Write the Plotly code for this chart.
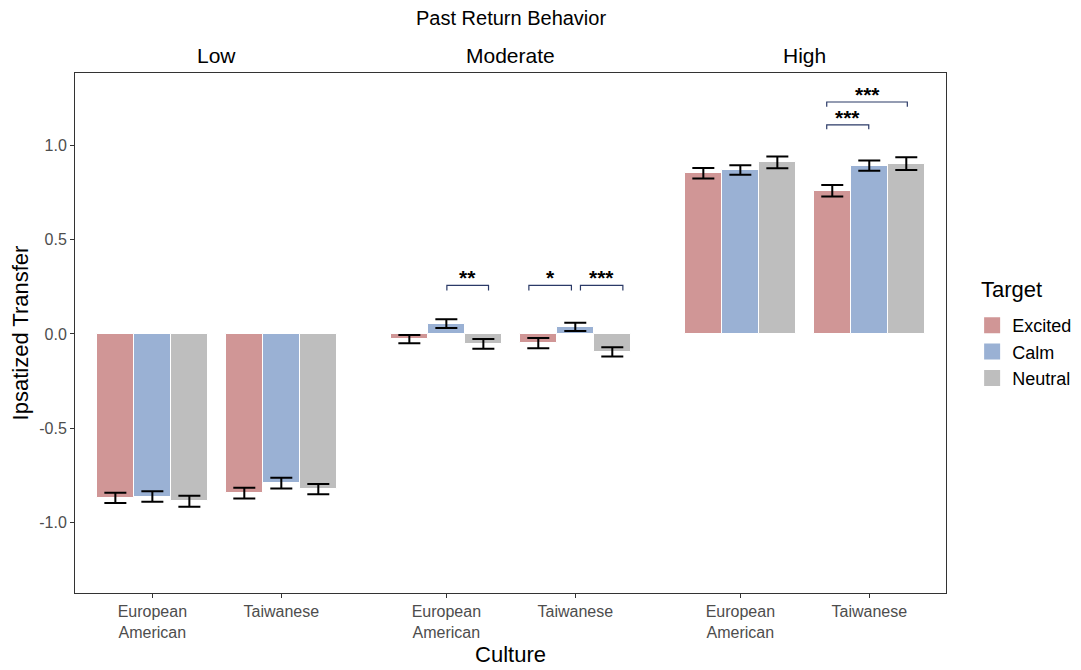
import plotly.graph_objects as go

facets = ["Low", "Moderate", "High"]
cultures = ["European<br>American", "Taiwanese"]
targets = ["Excited", "Calm", "Neutral"]
colors = ["#D09696", "#9AB1D4", "#BEBEBE"]

# values[target] -> list over (facet, culture): Low-EA, Low-TW, Mod-EA, Mod-TW, High-EA, High-TW
values = {
    "Excited": [-0.870, -0.845, -0.028, -0.049, 0.853, 0.760],
    "Calm":    [-0.863, -0.792, 0.055, 0.037, 0.870, 0.893],
    "Neutral": [-0.888, -0.824, -0.053, -0.095, 0.911, 0.904],
}
errors = {
    "Excited": [0.027, 0.029, 0.022, 0.027, 0.028, 0.030],
    "Calm":    [0.028, 0.029, 0.023, 0.022, 0.025, 0.027],
    "Neutral": [0.029, 0.027, 0.026, 0.025, 0.031, 0.034],
}

# significance brackets: (x_start, x_end, y_top, y_leg, label)
brackets = [
    (3.284, 3.607, 0.258, 0.230, "**"),
    (3.920, 4.250, 0.258, 0.230, "*"),
    (4.320, 4.649, 0.258, 0.230, "***"),
    (6.230, 6.556, 1.110, 1.086, "***"),
    (6.230, 6.855, 1.231, 1.206, "***"),
]

facet_step = 2.28
group_pos = [1 + f * facet_step + c for f in range(len(facets)) for c in range(len(cultures))]
dodge = 0.287
bar_w = 0.287

fig = go.Figure()
for i, t in enumerate(targets):
    xs = [g + (i - 1) * dodge for g in group_pos]
    fig.add_trace(go.Bar(
        x=xs, y=values[t], width=bar_w, name=t, showlegend=False,
        marker=dict(color=colors[i], line=dict(color="white", width=1)),
        error_y=dict(type="data", array=errors[t], color="black", thickness=2, width=11),
    ))
    # legend key
    fig.add_trace(go.Scatter(
        x=[None], y=[None], mode="markers", name=t,
        marker=dict(symbol="square", size=21, color=colors[i]), showlegend=True))

for x0, x1, yt, yl, lab in brackets:
    fig.add_trace(go.Scatter(
        x=[x0, x0, x1, x1], y=[yl, yt, yt, yl], mode="lines",
        line=dict(color="#2B3A67", width=1.2), showlegend=False, hoverinfo="skip"))
    fig.add_annotation(x=(x0 + x1) / 2, y=yt, text="<b>" + lab + "</b>", showarrow=False,
                       yanchor="bottom", yshift=-6, font=dict(size=21, color="black"))

for f, name in enumerate(facets):
    cx = 1 + f * facet_step + 0.5
    fig.add_annotation(x=cx, y=1.0, yref="paper", text=name, showarrow=False,
                       yanchor="bottom", yshift=4, font=dict(size=21, color="black"))

fig.add_annotation(x=0.5, y=1.0, xref="paper", yref="paper", text="Past Return Behavior",
                   showarrow=False, yanchor="bottom", yshift=42, font=dict(size=20, color="black"))

# legend title
fig.add_annotation(x=1.038, y=0.583, xref="paper", yref="paper", text="Target",
                   showarrow=False, xanchor="left", yanchor="middle", font=dict(size=22, color="black"))

tickvals = group_pos
ticktext = cultures * len(facets)

fig.update_layout(
    width=1081, height=670,
    margin=dict(l=67, r=143, t=65, b=85),
    plot_bgcolor="white", paper_bgcolor="white",
    font=dict(family="Liberation Sans, Arial, sans-serif", color="black"),
    barmode="overlay", bargap=0,
    showlegend=True,
    legend=dict(font=dict(size=18),
                x=1.03, y=0.55, xanchor="left", yanchor="top",
                tracegroupgap=0, itemwidth=30, borderwidth=0),
    xaxis=dict(range=[0.4, 7.155], tickvals=tickvals, ticktext=ticktext,
               showline=True, mirror=True, linecolor="#333333", linewidth=1,
               ticks="outside", ticklen=4, tickcolor="#333333", automargin=False,
               tickfont=dict(size=16, color="#4D4D4D"), showgrid=False, zeroline=False,
               title=dict(text="Culture", font=dict(size=22), standoff=6)),
    yaxis=dict(range=[-1.375, 1.385], tickvals=[-1.0, -0.5, 0.0, 0.5, 1.0],
               ticktext=["-1.0", "-0.5", "0.0", "0.5", "1.0"],
               showline=True, mirror=True, linecolor="#333333", linewidth=1,
               ticks="outside", ticklen=4, tickcolor="#333333", automargin=False,
               tickfont=dict(size=16, color="#4D4D4D"), showgrid=False, zeroline=False,
               title=dict(text="Ipsatized Transfer", font=dict(size=22), standoff=4)),
)

fig.write_html("out.html")
